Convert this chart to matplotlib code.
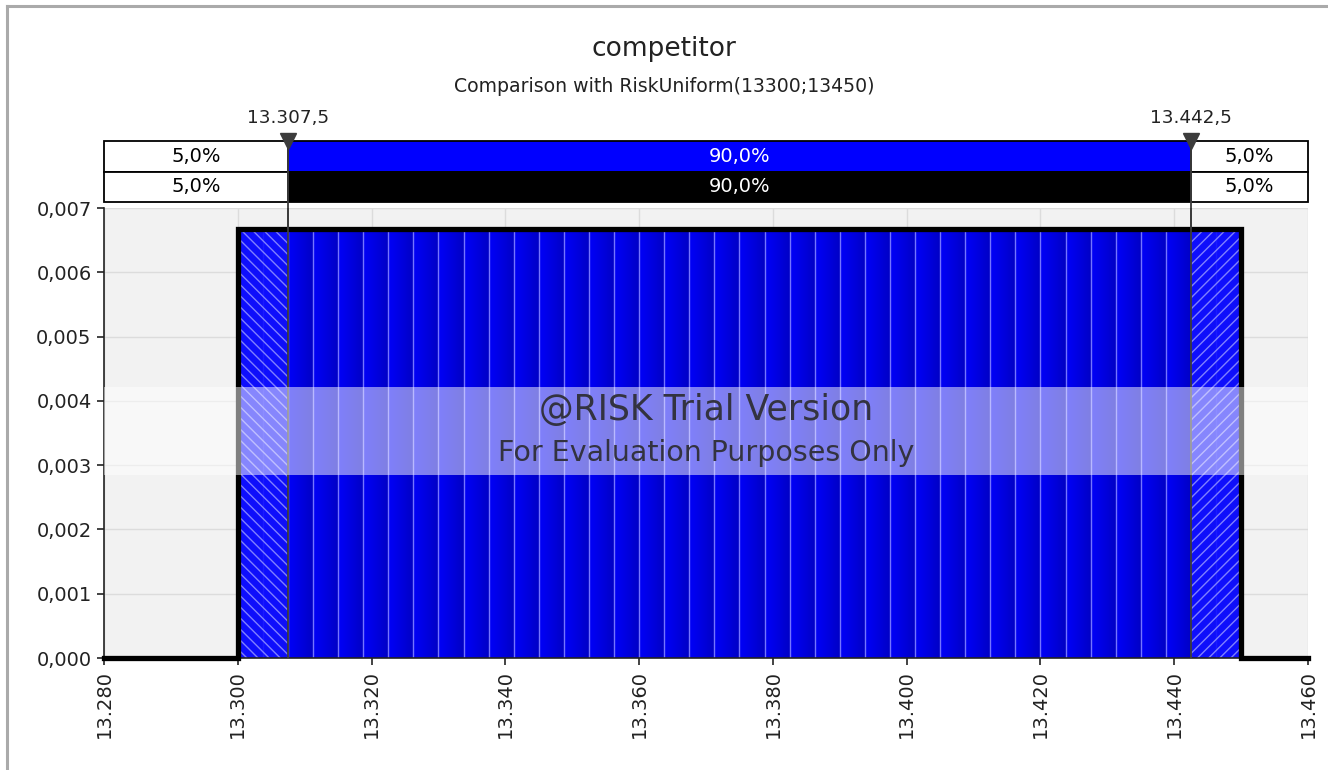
import numpy as np
import matplotlib
matplotlib.use("Agg")
import matplotlib.pyplot as plt
from matplotlib.colors import LinearSegmentedColormap
from matplotlib.lines import Line2D

plt.rcParams['font.family'] = ['DejaVu Sans']

# --- data -------------------------------------------------------------
title = "competitor"
subtitle = "Comparison with RiskUniform(13300;13450)"
dist_min, dist_max = 13300, 13450
n_bins = 40
hist_density = [
    0.00667, 0.00667, 0.00667, 0.00667, 0.00667, 0.00667, 0.00667, 0.00667,
    0.00667, 0.00667, 0.00667, 0.00667, 0.00667, 0.00667, 0.00667, 0.00667,
    0.00667, 0.00667, 0.00667, 0.00667, 0.00667, 0.00667, 0.00667, 0.00667,
    0.00667, 0.00667, 0.00667, 0.00667, 0.00667, 0.00667, 0.00667, 0.00667,
    0.00667, 0.00667, 0.00667, 0.00667, 0.00667, 0.00667, 0.00667, 0.00667,
]
left_delim, right_delim = 13307.5, 13442.5
delim_labels = ["13.307,5", "13.442,5"]
sim_pcts = ["5,0%", "90,0%", "5,0%"]
fit_pcts = ["5,0%", "90,0%", "5,0%"]
x_ticks = [13280, 13300, 13320, 13340, 13360, 13380, 13400, 13420, 13440, 13460]
y_ticks = [0.000, 0.001, 0.002, 0.003, 0.004, 0.005, 0.006, 0.007]
x_range = (13280, 13460)

# --- figure -------------------------------------------------------------
W, H = 1328, 770
fig = plt.figure(figsize=(W / 100, H / 100), dpi=100)

def fx(px):
    return px / W

def fy(py):
    return 1 - py / H

ax = fig.add_axes([fx(104), fy(658), fx(1308) - fx(104), fy(208) - fy(658)])
ax.set_facecolor('#F2F2F2')
ax.set_xlim(*x_range)
ax.set_ylim(0, 0.007)

# histogram bars with a subtle horizontal shading inside each bin
edges = np.linspace(dist_min, dist_max, n_bins + 1)
widths = np.diff(edges)
shade = LinearSegmentedColormap.from_list('shade', ['#0000F8', '#0000E0', '#0000C4'])
grad = np.linspace(0, 1, 64).reshape(1, -1)
bars = ax.bar(edges[:-1], hist_density, width=widths, align='edge',
              color='#0000E6', edgecolor='#6E6EFF', linewidth=1.0, zorder=2)
for b in bars:
    x0 = b.get_x()
    im = ax.imshow(grad, extent=[x0, x0 + b.get_width(), 0, b.get_height()],
                   aspect='auto', cmap=shade, zorder=2.1, interpolation='bilinear')
    im.set_clip_path(b)
# separators between bins
for e in edges[1:-1]:
    ax.plot([e, e], [0, hist_density[0]], color='#7474FF', lw=1.0, zorder=2.2)

# hatched tails outside the delimiters
plt.rcParams['hatch.linewidth'] = 1.0
for i, (e0, w) in enumerate(zip(edges[:-1], widths)):
    if e0 + w <= left_delim:
        ax.bar(e0, hist_density[i], width=w, align='edge', facecolor='#1010FF',
               edgecolor='#8C8CFF', hatch='\\\\\\', linewidth=0, alpha=0.9, zorder=2.3)
    elif e0 >= right_delim:
        ax.bar(e0, hist_density[i], width=w, align='edge', facecolor='#1010FF',
               edgecolor='#8C8CFF', hatch='///', linewidth=0, alpha=0.9, zorder=2.3)

# theoretical uniform density
dens = 1 / (dist_max - dist_min)
ax.plot([x_range[0], dist_min, dist_min, dist_max, dist_max, x_range[1]],
        [0, 0, dens, dens, 0, 0], color='black', lw=3.8,
        solid_joinstyle='miter', zorder=3, clip_on=False)

# delimiter lines
for d in (left_delim, right_delim):
    ax.axvline(d, color='#3C3C3C', lw=1.3, zorder=3.5)

# grid / ticks
ax.set_xticks(x_ticks)
ax.set_xticklabels([f"{v / 1000:.3f}" for v in x_ticks], rotation=90)
ax.set_yticks(y_ticks)
ax.set_yticklabels([f"{v:.3f}".replace('.', ',') for v in y_ticks])
ax.grid(True, color='#DCDCDC', lw=1.0, zorder=0)
ax.set_axisbelow(True)
ax.tick_params(axis='both', labelsize=14, colors='#222222', length=5,
               width=1.2, direction='out', pad=4)
for s in ('top', 'right'):
    ax.spines[s].set_visible(False)
ax.spines['left'].set_color('#222222')
ax.spines['left'].set_linewidth(1.2)
ax.spines['bottom'].set_color('#222222')
ax.spines['bottom'].set_linewidth(1.2)

# evaluation watermark
ax.axhspan(0.00285, 0.00422, color='white', alpha=0.5, lw=0, zorder=4)
ax.text(0.5, 0.552, "@RISK Trial Version", transform=ax.transAxes,
        ha='center', va='center', fontsize=25, color='#333340', zorder=5)
ax.text(0.5, 0.456, "For Evaluation Purposes Only", transform=ax.transAxes,
        ha='center', va='center', fontsize=20.5, color='#333340', zorder=5)

# --- percentile band above the plot -------------------------------------
bx = fig.add_axes([fx(104), fy(202), fx(1308) - fx(104), fy(141) - fy(202)])
bx.set_xlim(*x_range)
bx.set_ylim(0, 2)
bx.axis('off')
segs = [(x_range[0], left_delim), (left_delim, right_delim), (right_delim, x_range[1])]
rows = [(1, sim_pcts, ['white', '#0000FF', 'white'], ['black', 'white', 'black']),
        (0, fit_pcts, ['white', '#000000', 'white'], ['black', 'white', 'black'])]
for y0, labels, fills, tcols in rows:
    for (a, b), lab, fc, tc in zip(segs, labels, fills, tcols):
        bx.add_patch(plt.Rectangle((a, y0), b - a, 1, facecolor=fc,
                                   edgecolor='black', lw=1.3, clip_on=False))
        bx.text((a + b) / 2, y0 + 0.5, lab, ha='center', va='center',
                fontsize=14, color=tc)
for d, lab in zip((left_delim, right_delim), delim_labels):
    bx.plot([d, d], [0, 2], color='#3C3C3C', lw=1.3, clip_on=False)
    bx.plot([d], [2.0], marker='v', markersize=12, color='#3C3C3C',
            clip_on=False, zorder=5)
    bx.text(d, 2.75, lab, ha='center', va='center', fontsize=13.2, color='#222222')

# connect delimiter lines between band and plot
for d in (left_delim, right_delim):
    xd = ax.transData.transform((d, 0))[0]
    xf = fig.transFigure.inverted().transform((xd, 0))[0]
    fig.add_artist(Line2D([xf, xf], [fy(228), fy(202)], color='#3C3C3C', lw=1.3))

# titles
fig.text(0.5 + 0.0, fy(49), title, ha='center', va='center', fontsize=19, color='#222222')
fig.text(0.5 + 0.0, fy(87), subtitle, ha='center', va='center', fontsize=13.6, color='#222222')

# outer frame
fig.add_artist(Line2D([fx(6.5), fx(6.5)], [0, fy(5.5)], color='#AAAAAA', lw=2.2))
fig.add_artist(Line2D([fx(6.5), 1], [fy(5.5), fy(5.5)], color='#AAAAAA', lw=2.2))

fig.savefig('out.png', dpi=100)
